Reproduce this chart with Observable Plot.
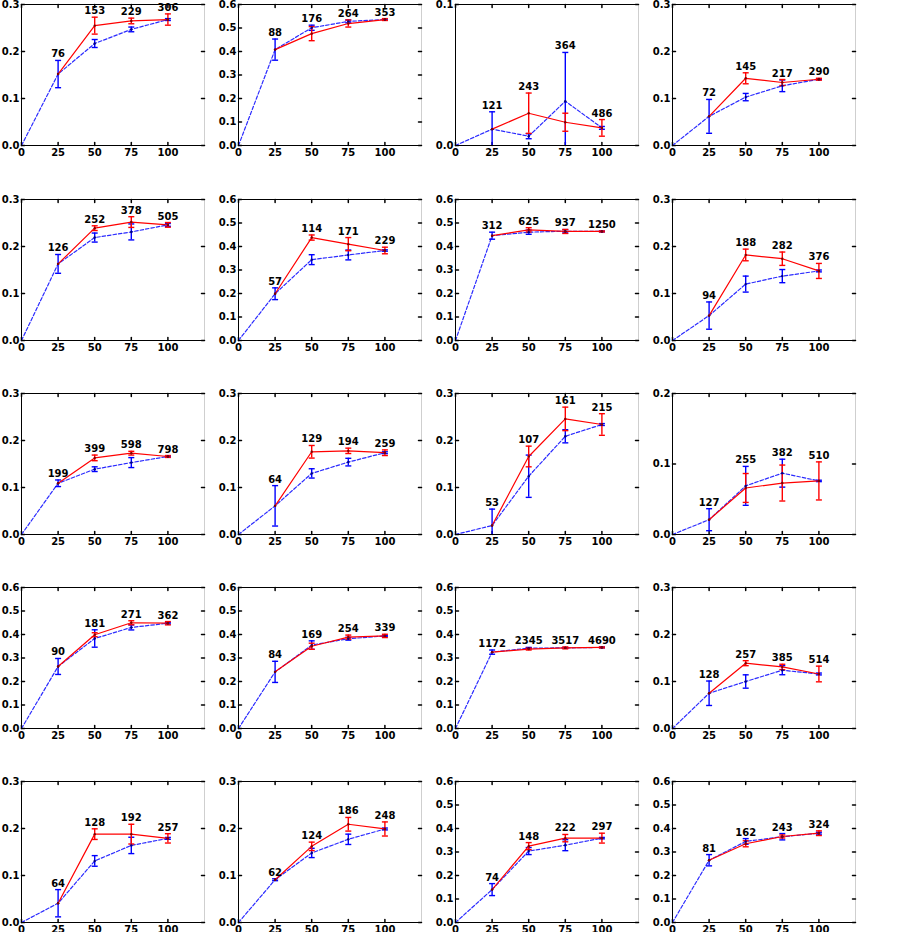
<!DOCTYPE html>
<html><head><meta charset="utf-8">
<script src="https://cdn.jsdelivr.net/npm/d3@7"></script>
<script src="https://cdn.jsdelivr.net/npm/@observablehq/plot@0.6"></script>
<style>
body{margin:0;background:#fff;}
#wrap{position:relative;width:901px;height:932px;overflow:hidden;}
#wrap svg{position:absolute;background:none;overflow:visible;max-width:none;}
</style></head><body><div id="wrap"></div>
<script>
// ---- data ----
const xSteps = [25, 50, 75, 100];
const xTicks = [0, 25, 50, 75, 100];
const panelYMax = [0.3, 0.6, 0.1, 0.3, 0.3, 0.6, 0.6, 0.3, 0.3, 0.3, 0.3, 0.2, 0.6, 0.6, 0.6, 0.3, 0.3, 0.3, 0.6, 0.6];
const pointLabels = [
  [76,153,229,306],[88,176,264,353],[121,243,364,486],[72,145,217,290],
  [126,252,378,505],[57,114,171,229],[312,625,937,1250],[94,188,282,376],
  [199,399,598,798],[64,129,194,259],[53,107,161,215],[127,255,382,510],
  [90,181,271,362],[84,169,254,339],[1172,2345,3517,4690],[128,257,385,514],
  [64,128,192,257],[62,124,186,248],[74,148,222,297],[81,162,243,324]
];
const redMean = [
  [0.152,0.255,0.265,0.268],[0.408,0.476,0.519,0.536],[0.0116,0.0229,0.0165,0.0125],[0.062,0.143,0.134,0.141],
  [0.163,0.239,0.252,0.246],[0.199,0.438,0.410,0.383],[0.446,0.471,0.464,0.464],[0.053,0.182,0.174,0.148],
  [0.109,0.163,0.173,0.166],[0.061,0.176,0.178,0.174],[0.019,0.166,0.246,0.234],[0.021,0.066,0.073,0.076],
  [0.264,0.399,0.450,0.448],[0.241,0.350,0.389,0.394],[0.325,0.338,0.343,0.345],[0.075,0.139,0.131,0.116],
  [0.041,0.188,0.188,0.179],[0.091,0.162,0.209,0.199],[0.140,0.325,0.359,0.359],[0.265,0.335,0.366,0.380]
];
const redErr = [
  [0,0.018,0.006,0.012],[0,0.030,0.015,0.004],[0,0.0143,0.0064,0.0059],[0,0.0117,0.0064,0.002],
  [0,0.005,0.0114,0.005],[0,0.011,0.028,0.014],[0,0.009,0.0085,0.002],[0,0.0124,0.0142,0.016],
  [0,0.006,0.004,0.002],[0,0.0134,0.0057,0.006],[0,0.022,0.025,0.023],[0,0.0205,0.0255,0.027],
  [0,0.0085,0.0085,0.007],[0,0.013,0.0085,0.007],[0,0.004,0.004,0.002],[0,0.0053,0.0057,0.0167],
  [0,0.0113,0.021,0.0099],[0,0.009,0.0145,0.015],[0,0.015,0.0156,0.021],[0,0.0128,0.0064,0.0099]
];
const blueMean = [
  [0.152,0.217,0.247,0.268],[0.408,0.501,0.528,0.536],[0.0116,0.0066,0.0314,0.0125],[0.062,0.103,0.127,0.141],
  [0.163,0.219,0.231,0.246],[0.199,0.344,0.364,0.383],[0.446,0.461,0.465,0.464],[0.053,0.120,0.137,0.148],
  [0.109,0.139,0.153,0.166],[0.061,0.130,0.154,0.174],[0.019,0.124,0.209,0.234],[0.021,0.069,0.087,0.076],
  [0.264,0.383,0.430,0.448],[0.241,0.355,0.382,0.394],[0.325,0.342,0.343,0.345],[0.075,0.100,0.124,0.116],
  [0.041,0.131,0.164,0.179],[0.091,0.148,0.177,0.199],[0.140,0.304,0.329,0.359],[0.265,0.345,0.365,0.380]
];
const blueErr = [
  [0.029,0.0085,0.005,0.002],[0.045,0.011,0.006,0.002],[0.0123,0.0018,0.0346,0.001],[0.036,0.0078,0.0124,0.001],
  [0.020,0.0096,0.017,0.003],[0.025,0.021,0.021,0.003],[0.015,0.009,0.007,0.002],[0.029,0.017,0.014,0.002],
  [0.007,0.005,0.0106,0.001],[0.043,0.0099,0.0081,0.002],[0.035,0.045,0.014,0.002],[0.0156,0.0276,0.0198,0.001],
  [0.034,0.037,0.0106,0.003],[0.045,0.018,0.006,0.002],[0.009,0.003,0.002,0.002],[0.026,0.0142,0.0096,0.002],
  [0.029,0.0113,0.0174,0.002],[0.002,0.0099,0.011,0.002],[0.0255,0.015,0.0234,0.003],[0.024,0.012,0.0135,0.004]
];

// ---- drawing ----
const ML = 22, MR = 14, MT = 14, MB = 22, PW = 183, PH = 141;
const capSymbol = {draw(ctx, size) { const w = Math.sqrt(size / Math.PI); ctx.moveTo(-w, 0); ctx.lineTo(w, 0); }};
const tickShape = {draw(ctx, l) { ctx.moveTo(0, 0); ctx.lineTo(0, -l); }};
const wrap = document.getElementById("wrap");

function errMarks(rows, color) {
  const lo = d => Math.max(0, d.y - d.e), hi = d => d.y + d.e;
  const shown = rows.filter(d => d.e > 0);
  return [
    Plot.ruleX(shown, {x: "x", y1: lo, y2: hi, stroke: color, strokeWidth: 1.4}),
    Plot.dot(shown.filter(d => d.y - d.e >= 0), {x: "x", y: lo, r: 3, symbol: capSymbol, stroke: color, strokeWidth: 1.4, fill: "none"}),
    Plot.dot(shown, {x: "x", y: hi, r: 3, symbol: capSymbol, stroke: color, strokeWidth: 1.4, fill: "none"})
  ];
}

panelYMax.forEach((ymax, i) => {
  const r = Math.floor(i / 4), c = i % 4;
  const plotLeft = 21.3 + c * 216.9, plotTop = 4.3 + r * 194.2;
  const red = xSteps.map((x, k) => ({x, y: redMean[i][k], e: redErr[i][k], label: pointLabels[i][k],
    top: Math.max(redMean[i][k] + redErr[i][k], blueMean[i][k] + blueErr[i][k])}));
  const blue = xSteps.map((x, k) => ({x, y: blueMean[i][k], e: blueErr[i][k]}));
  const blueLine = [{x: 0, y: 0}, ...blue];
  const yTicks = d3.range(0, ymax + 1e-9, 0.1);

  const svg = Plot.plot({
    width: ML + PW + MR, height: MT + PH + MB,
    marginLeft: ML, marginRight: MR, marginTop: MT, marginBottom: MB,
    x: {domain: [0, 125]},
    y: {domain: [0, ymax]},
    style: {fontFamily: "DejaVu Sans", fontWeight: "bold", fontSize: "10px", background: "none", color: "#000"},
    marks: [
      Plot.ruleY([ymax], {stroke: "#000", strokeWidth: 1}),
      Plot.ruleX([125], {stroke: "#cfcfcf", strokeWidth: 1}),
      Plot.vector(yTicks, {y: d => d, frameAnchor: "left", rotate: 90, length: 3, anchor: "start", shape: tickShape, stroke: "#000"}),
      Plot.vector(yTicks, {y: d => d, frameAnchor: "right", rotate: -90, length: 3, anchor: "start", shape: tickShape, stroke: "#000"}),
      Plot.vector(xTicks, {x: d => d, frameAnchor: "bottom", rotate: 0, length: 3, anchor: "start", shape: tickShape, stroke: "#000"}),
      Plot.vector(xTicks, {x: d => d, frameAnchor: "top", rotate: 180, length: 3, anchor: "start", shape: tickShape, stroke: "#000"}),
      Plot.line(blueLine, {x: "x", y: "y", stroke: "#2b2bff", strokeWidth: 1.2, strokeDasharray: "3.5,2"}),
      ...errMarks(blue, "#0000ff"),
      Plot.line(red, {x: "x", y: "y", stroke: "#ff0000", strokeWidth: 1.2}),
      ...errMarks(red, "#ff0000"),
      Plot.dot(blue, {x: "x", y: "y", r: 1.2, fill: "#000080"}),
      Plot.dot(red, {x: "x", y: "y", r: 1.2, fill: "#800000"}),
      Plot.text(red, {x: "x", y: "top", text: d => String(d.label), dy: -3, lineAnchor: "bottom", textAnchor: "middle", fill: "#000", fontSize: 10, fontWeight: "bold"}),
      Plot.ruleX([0], {stroke: "#000", strokeWidth: 1}),
      Plot.ruleY([0], {stroke: "#000", strokeWidth: 1}),
      Plot.axisX({ticks: xTicks, tickSize: 0, tickPadding: 3, label: null, tickFormat: d => String(d)}),
      Plot.axisY({ticks: yTicks, tickSize: 0, tickPadding: 2, label: null, tickFormat: d3.format(".1f")})
    ]
  });
  svg.style.left = (plotLeft - ML) + "px";
  svg.style.top = (plotTop - MT) + "px";
  wrap.appendChild(svg);
});
</script>
</body></html>
